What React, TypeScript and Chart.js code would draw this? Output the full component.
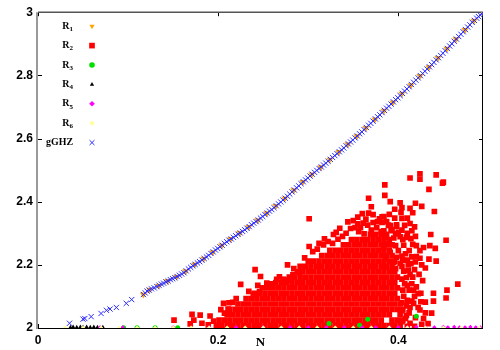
import React, { useEffect, useRef } from "react";
import { Chart, registerables } from "chart.js";
import { drawPoint } from "chart.js/helpers";

Chart.register(...registerables);

// ---------- axes ----------
const X_TICKS = [0, 0.2, 0.4];
const Y_TICKS = [2, 2.2, 2.4, 2.6, 2.8, 3];
const X_MIN = 0;
const X_MAX = 0.494;
const Y_MIN = 2;
const Y_MAX = 3;

// ---------- legend ----------
const SERIES_BASE = ["R", "R", "R", "R", "R", "R", "gGHZ"];
const SERIES_SUB = ["1", "2", "3", "4", "5", "6", ""];
const SERIES_LABELS = ["R₁", "R₂", "R₃", "R₄", "R₅", "R₆", "gGHZ"];

// ---------- gGHZ (blue crosses) ----------
const GGHZ_N = [
  0.035, 0.05, 0.052, 0.059, 0.07, 0.076, 0.08, 0.087, 0.098, 0.104,
  0.117, 0.121, 0.126, 0.132, 0.137, 0.142, 0.147, 0.152, 0.157, 0.162,
  0.167, 0.172, 0.177, 0.182, 0.187, 0.192, 0.197, 0.202, 0.207, 0.212,
  0.217, 0.222, 0.227, 0.232, 0.237, 0.242, 0.247, 0.252, 0.257, 0.262,
  0.267, 0.272, 0.277, 0.282, 0.287, 0.292, 0.297, 0.302, 0.307, 0.312,
  0.317, 0.322, 0.327, 0.332, 0.337, 0.342, 0.347, 0.352, 0.357, 0.362,
  0.367, 0.372, 0.377, 0.382, 0.387, 0.392, 0.397, 0.402, 0.407, 0.412,
  0.417, 0.422, 0.427, 0.432, 0.437, 0.442, 0.447, 0.452, 0.457, 0.462,
  0.467, 0.472, 0.477, 0.482, 0.487, 0.491, 0.494,
];
const GGHZ_V = [
  2.015, 2.028, 2.03, 2.036, 2.046, 2.056, 2.06, 2.065, 2.078, 2.09,
  2.106, 2.117, 2.124, 2.131, 2.139, 2.146, 2.153, 2.159, 2.167, 2.175,
  2.187, 2.197, 2.206, 2.215, 2.225, 2.236, 2.247, 2.257, 2.268, 2.278,
  2.287, 2.297, 2.306, 2.316, 2.327, 2.337, 2.348, 2.359, 2.37, 2.381,
  2.393, 2.405, 2.417, 2.431, 2.444, 2.457, 2.469, 2.481, 2.493, 2.505,
  2.516, 2.528, 2.54, 2.552, 2.564, 2.577, 2.589, 2.602, 2.615, 2.628,
  2.642, 2.655, 2.669, 2.682, 2.696, 2.709, 2.723, 2.736, 2.75, 2.764,
  2.778, 2.792, 2.806, 2.82, 2.834, 2.849, 2.863, 2.878, 2.893, 2.908,
  2.923, 2.938, 2.953, 2.968, 2.981, 2.991, 3.0,
];
// further gGHZ crosses lying between the ones above (the dense part of the curve)
const GGHZ_N_B = [
  0.119, 0.1235, 0.129, 0.1345, 0.1395, 0.1445, 0.1495, 0.1545, 0.1595, 0.1645,
  0.1695, 0.1745, 0.1795, 0.1845, 0.1895, 0.1945, 0.1995, 0.2045, 0.2095, 0.2145,
  0.2195, 0.2245, 0.2295, 0.2345, 0.2395, 0.2445, 0.2495, 0.2545, 0.2595, 0.2645,
  0.2695, 0.2745, 0.2795, 0.2845, 0.2895, 0.2945, 0.2995, 0.3045, 0.3095, 0.3145,
  0.3195, 0.3245, 0.3295, 0.3345, 0.3395, 0.3445, 0.3495, 0.3545, 0.3595, 0.3645,
  0.3695, 0.3745, 0.3795, 0.3845, 0.3895, 0.3945, 0.3995, 0.4045, 0.4095, 0.4145,
  0.4195, 0.4245, 0.4295, 0.4345, 0.4395, 0.4445, 0.4495, 0.4545, 0.4595, 0.4645,
  0.4695, 0.4745, 0.4795, 0.4845, 0.489, 0.4925,
];
const GGHZ_V_B = [
  2.111, 2.12, 2.127, 2.135, 2.142, 2.149, 2.156, 2.163, 2.171, 2.181,
  2.192, 2.201, 2.21, 2.22, 2.23, 2.241, 2.252, 2.262, 2.273, 2.282,
  2.292, 2.301, 2.311, 2.321, 2.332, 2.342, 2.353, 2.364, 2.375, 2.387,
  2.399, 2.411, 2.424, 2.437, 2.45, 2.463, 2.475, 2.487, 2.499, 2.51,
  2.522, 2.534, 2.546, 2.558, 2.57, 2.583, 2.595, 2.608, 2.621, 2.635,
  2.648, 2.662, 2.675, 2.689, 2.702, 2.716, 2.729, 2.743, 2.757, 2.771,
  2.785, 2.799, 2.813, 2.827, 2.841, 2.856, 2.87, 2.885, 2.9, 2.915,
  2.93, 2.945, 2.96, 2.974, 2.986, 2.995,
];

// ---------- R1 (orange down-triangles, along the curve) ----------
const R1_N = [
  0.117, 0.124, 0.134, 0.144, 0.154, 0.164, 0.174, 0.184, 0.194, 0.204,
  0.214, 0.224, 0.234, 0.244, 0.254, 0.264, 0.274, 0.284, 0.294, 0.304,
  0.314, 0.324, 0.334, 0.344, 0.354, 0.364, 0.374, 0.384, 0.394, 0.404,
  0.414, 0.424, 0.434, 0.444, 0.454, 0.464, 0.474, 0.484, 0.494,
];
const R1_V = [
  2.106, 2.121, 2.134, 2.149, 2.162, 2.18, 2.201, 2.219, 2.24, 2.261,
  2.282, 2.301, 2.32, 2.341, 2.363, 2.386, 2.41, 2.436, 2.462, 2.486,
  2.509, 2.533, 2.557, 2.582, 2.607, 2.633, 2.66, 2.688, 2.714, 2.742,
  2.769, 2.798, 2.826, 2.855, 2.884, 2.914, 2.944, 2.973, 3.0,
];

// ---------- R2 (red squares): dense core, row by row ----------
const R2_ROW_V = [
  2.008, 2.025, 2.042, 2.059, 2.076, 2.093, 2.11, 2.127, 2.144,
  2.161, 2.178, 2.195, 2.212, 2.229, 2.246, 2.263, 2.28, 2.297,
];
const R2_ROW_N = [
  [0.198, 0.204, 0.21, 0.216, 0.222, 0.228, 0.234, 0.24, 0.246, 0.252, 0.258, 0.264, 0.27, 0.276, 0.282, 0.288, 0.294, 0.3, 0.306, 0.312, 0.318, 0.324, 0.33, 0.336, 0.342, 0.348, 0.354, 0.36, 0.366, 0.372, 0.378, 0.384, 0.39, 0.396, 0.402],
  [0.201, 0.207, 0.213, 0.219, 0.225, 0.231, 0.237, 0.243, 0.249, 0.255, 0.261, 0.267, 0.273, 0.279, 0.285, 0.291, 0.297, 0.303, 0.309, 0.315, 0.321, 0.327, 0.333, 0.339, 0.345, 0.351, 0.357, 0.363, 0.369, 0.375, 0.381, 0.393, 0.399, 0.405],
  [0.21, 0.216, 0.222, 0.228, 0.234, 0.24, 0.246, 0.252, 0.258, 0.264, 0.27, 0.276, 0.282, 0.288, 0.294, 0.3, 0.306, 0.312, 0.318, 0.324, 0.33, 0.336, 0.342, 0.348, 0.354, 0.36, 0.366, 0.372, 0.378, 0.384, 0.39, 0.402],
  [0.213, 0.219, 0.225, 0.231, 0.237, 0.243, 0.249, 0.255, 0.261, 0.267, 0.273, 0.279, 0.285, 0.291, 0.297, 0.303, 0.309, 0.315, 0.321, 0.327, 0.333, 0.339, 0.345, 0.351, 0.357, 0.363, 0.369, 0.375, 0.381, 0.387, 0.393, 0.399, 0.405],
  [0.222, 0.228, 0.234, 0.24, 0.246, 0.252, 0.258, 0.264, 0.27, 0.276, 0.282, 0.288, 0.294, 0.3, 0.306, 0.312, 0.318, 0.324, 0.33, 0.336, 0.342, 0.348, 0.354, 0.36, 0.366, 0.372, 0.378, 0.384, 0.39, 0.396, 0.402],
  [0.231, 0.237, 0.243, 0.249, 0.255, 0.261, 0.267, 0.273, 0.279, 0.285, 0.291, 0.297, 0.303, 0.309, 0.315, 0.321, 0.327, 0.333, 0.339, 0.345, 0.351, 0.357, 0.363, 0.369, 0.375, 0.381, 0.387, 0.393, 0.399],
  [0.24, 0.246, 0.252, 0.258, 0.264, 0.27, 0.276, 0.282, 0.288, 0.294, 0.3, 0.306, 0.312, 0.318, 0.324, 0.33, 0.336, 0.342, 0.348, 0.354, 0.36, 0.366, 0.372, 0.378, 0.384, 0.39, 0.396],
  [0.249, 0.255, 0.261, 0.267, 0.273, 0.279, 0.285, 0.291, 0.297, 0.303, 0.309, 0.315, 0.321, 0.327, 0.333, 0.339, 0.345, 0.351, 0.357, 0.363, 0.369, 0.375, 0.381, 0.387, 0.393, 0.399],
  [0.264, 0.27, 0.276, 0.282, 0.288, 0.294, 0.3, 0.306, 0.312, 0.318, 0.324, 0.33, 0.336, 0.342, 0.348, 0.354, 0.36, 0.366, 0.372, 0.378, 0.384, 0.39, 0.396],
  [0.279, 0.285, 0.291, 0.297, 0.303, 0.309, 0.315, 0.321, 0.327, 0.333, 0.339, 0.345, 0.351, 0.357, 0.363, 0.369, 0.375, 0.381, 0.387, 0.393, 0.399],
  [0.288, 0.294, 0.3, 0.306, 0.312, 0.318, 0.324, 0.33, 0.336, 0.342, 0.348, 0.354, 0.36, 0.366, 0.372, 0.378, 0.384, 0.39, 0.396],
  [0.291, 0.297, 0.303, 0.309, 0.315, 0.321, 0.327, 0.333, 0.339, 0.345, 0.351, 0.357, 0.363, 0.369, 0.375, 0.381, 0.387, 0.393],
  [0.3, 0.306, 0.312, 0.318, 0.324, 0.33, 0.336, 0.342, 0.348, 0.354, 0.36, 0.366, 0.372, 0.378, 0.384, 0.39, 0.396],
  [0.315, 0.321, 0.327, 0.333, 0.339, 0.345, 0.351, 0.357, 0.363, 0.369, 0.375, 0.381, 0.387, 0.393],
  [0.324, 0.33, 0.336, 0.342, 0.348, 0.354, 0.36, 0.366, 0.372, 0.378, 0.384, 0.39],
  [0.339, 0.345, 0.351, 0.357, 0.363, 0.369, 0.375, 0.381, 0.387, 0.393],
  [0.348, 0.354, 0.36, 0.366, 0.372, 0.378, 0.384, 0.39],
  [0.369, 0.375, 0.381, 0.387],
];
// R2 scattered squares around the core: [N, value]
const R2_SCATTER: [number, number][] = [
  [0.424, 2.488], [0.424, 2.471], [0.413, 2.475], [0.442, 2.485], [0.45, 2.462], [0.449, 2.459],
  [0.385, 2.453], [0.385, 2.42], [0.434, 2.439], [0.391, 2.4], [0.402, 2.396], [0.419, 2.395],
  [0.426, 2.385], [0.44, 2.369], [0.396, 2.376], [0.404, 2.381], [0.413, 2.379], [0.403, 2.366],
  [0.416, 2.365], [0.367, 2.411], [0.37, 2.384], [0.301, 2.346], [0.344, 2.336], [0.355, 2.351],
  [0.36, 2.362], [0.367, 2.364], [0.372, 2.359], [0.382, 2.352], [0.377, 2.337], [0.387, 2.337],
  [0.389, 2.326], [0.347, 2.315], [0.355, 2.33], [0.361, 2.332], [0.331, 2.303], [0.328, 2.296],
  [0.327, 2.268], [0.312, 2.268], [0.317, 2.263], [0.301, 2.258], [0.305, 2.242], [0.296, 2.222],
  [0.277, 2.2], [0.284, 2.188], [0.272, 2.154],
  [0.338, 2.29], [0.342, 2.3], [0.356, 2.305], [0.362, 2.298], [0.37, 2.31], [0.376, 2.318],
  [0.381, 2.305], [0.392, 2.312], [0.397, 2.298], [0.398, 2.322],
  [0.39, 2.36], [0.384, 2.353], [0.396, 2.348], [0.382, 2.334], [0.391, 2.324], [0.398, 2.327],
  [0.384, 2.308], [0.393, 2.308], [0.4, 2.303], [0.386, 2.287], [0.395, 2.285], [0.402, 2.289],
  [0.389, 2.266], [0.397, 2.261], [0.384, 2.256], [0.4, 2.245], [0.391, 2.24], [0.398, 2.224],
  [0.386, 2.219], [0.395, 2.208], [0.402, 2.205], [0.387, 2.193], [0.397, 2.188],
  [0.404, 2.347], [0.41, 2.348], [0.413, 2.331], [0.415, 2.308], [0.409, 2.287], [0.414, 2.283],
  [0.42, 2.261], [0.424, 2.245], [0.42, 2.226], [0.424, 2.221], [0.419, 2.209], [0.414, 2.204],
  [0.411, 2.182], [0.416, 2.161], [0.42, 2.13], [0.422, 2.109], [0.417, 2.078], [0.424, 2.057],
  [0.412, 2.048], [0.413, 2.015], [0.406, 2.262], [0.408, 2.235], [0.405, 2.215], [0.409, 2.16],
  [0.407, 2.14], [0.412, 2.12], [0.406, 2.1], [0.41, 2.088], [0.413, 2.065], [0.408, 2.03],
  [0.415, 2.14], [0.411, 2.2],
  [0.404, 2.02], [0.409, 2.04], [0.404, 2.055], [0.409, 2.07], [0.415, 2.085], [0.404, 2.08],
  [0.418, 2.1], [0.405, 2.12], [0.41, 2.135], [0.417, 2.12], [0.404, 2.155], [0.413, 2.17],
  [0.406, 2.18], [0.418, 2.185], [0.404, 2.195], [0.41, 2.215], [0.415, 2.225], [0.404, 2.228],
  [0.412, 2.245], [0.405, 2.28], [0.416, 2.265], [0.41, 2.3], [0.404, 2.31], [0.419, 2.29],
  [0.407, 2.325], [0.418, 2.32], [0.426, 2.2], [0.423, 2.17], [0.427, 2.15], [0.422, 2.065],
  [0.428, 2.03], [0.418, 2.005], [0.41, 2.005], [0.425, 2.11],
  [0.436, 2.296], [0.453, 2.278], [0.441, 2.252], [0.435, 2.261], [0.428, 2.255], [0.442, 2.212],
  [0.434, 2.218], [0.43, 2.19], [0.466, 2.139], [0.454, 2.12], [0.453, 2.095], [0.439, 2.11],
  [0.439, 2.085], [0.437, 2.047], [0.43, 2.048], [0.433, 2.014], [0.425, 2.083], [0.43, 2.082],
  [0.419, 2.033], [0.426, 2.012],
  [0.151, 2.025], [0.171, 2.043], [0.18, 2.041], [0.191, 2.038], [0.173, 2.025], [0.182, 2.015],
  [0.169, 2.013], [0.189, 2.01], [0.195, 2.022], [0.225, 2.138], [0.241, 2.185], [0.247, 2.163],
  [0.254, 2.142], [0.265, 2.154], [0.273, 2.153], [0.277, 2.151], [0.244, 2.135], [0.256, 2.129],
  [0.246, 2.115], [0.234, 2.116], [0.239, 2.105], [0.22, 2.093], [0.212, 2.08], [0.206, 2.078],
  [0.216, 2.081], [0.211, 2.06], [0.203, 2.058], [0.207, 2.047], [0.259, 2.14], [0.268, 2.162],
  [0.283, 2.168], [0.29, 2.176],
  [0.318, 2.282], [0.322, 2.274], [0.333, 2.281], [0.352, 2.318], [0.358, 2.318], [0.366, 2.326],
  [0.372, 2.334], [0.379, 2.346], [0.364, 2.345], [0.35, 2.34], [0.335, 2.316], [0.31, 2.25],
];

// ---------- R3 (green circles) ----------
const R3_N = [0.323, 0.366, 0.357, 0.42, 0.095, 0.11, 0.13, 0.155];
const R3_V = [2.014, 2.028, 2.009, 2.037, 2.001, 2.001, 2.001, 2.001];

// ---------- R4 (black triangles) ----------
const R4_N = [0.036, 0.039, 0.043, 0.047, 0.05, 0.054, 0.058, 0.062, 0.066, 0.072];
const R4_V = [2.002, 2.003, 2.002, 2.003, 2.002, 2.003, 2.002, 2.003, 2.002, 2.002];

// ---------- R5 (magenta) ----------
const R5_N = [
  0.069, 0.094, 0.15, 0.19, 0.22, 0.25, 0.28, 0.3, 0.32, 0.34, 0.36, 0.375, 0.39,
  0.4, 0.41, 0.42, 0.43, 0.44, 0.45, 0.455, 0.462, 0.468, 0.474, 0.48, 0.486, 0.491,
];
const R5_V = [
  2.002, 2.002, 2.002, 2.002, 2.002, 2.002, 2.002, 2.002, 2.002, 2.002, 2.002, 2.002, 2.002,
  2.002, 2.002, 2.003, 2.002, 2.002, 2.003, 2.002, 2.003, 2.002, 2.002, 2.003, 2.002, 2.002,
];

// ---------- R6 (light yellow) ----------
const R6_N = [
  0.03, 0.05, 0.07, 0.09, 0.11, 0.13, 0.15, 0.17, 0.19, 0.21, 0.23, 0.25,
  0.27, 0.29, 0.31, 0.33, 0.35, 0.37, 0.39, 0.41, 0.43, 0.45, 0.47, 0.49,
];
const R6_V = [
  2.001, 2.001, 2.001, 2.001, 2.001, 2.001, 2.001, 2.001, 2.001, 2.001, 2.001, 2.001,
  2.001, 2.001, 2.001, 2.001, 2.001, 2.001, 2.001, 2.001, 2.001, 2.001, 2.001, 2.001,
];

const pairs = (ns: number[], vs: number[]) => ns.map((n, i) => ({ x: n, y: vs[i] }));

const SERIF = '"Liberation Serif", "Times New Roman", serif';
const SANS = '"Liberation Sans", Arial, sans-serif';

const framePlugin = {
  id: "frame",
  beforeDatasetsDraw(chart: any) {
    const { ctx, chartArea, scales } = chart;
    const { left, right, top, bottom } = chartArea;
    ctx.save();
    ctx.strokeStyle = "#000";
    ctx.lineWidth = 1;
    const seg = (x1: number, y1: number, x2: number, y2: number) => {
      ctx.beginPath();
      ctx.moveTo(x1, y1);
      ctx.lineTo(x2, y2);
      ctx.stroke();
    };
    X_TICKS.forEach((v) => {
      const px = Math.round(scales.x.getPixelForValue(v)) + 0.5;
      seg(px, bottom, px, bottom - 4);
      seg(px, top, px, top + 4);
    });
    Y_TICKS.forEach((v) => {
      const py = Math.round(scales.y.getPixelForValue(v)) + 0.5;
      seg(left, py, left + 4, py);
      seg(right, py, right - 4, py);
    });
    ctx.strokeStyle = "#000";
    seg(left, bottom + 0.5, right, bottom + 0.5);
    seg(right - 0.5, top, right - 0.5, bottom);
    ctx.strokeStyle = "#555";
    ctx.lineWidth = 1.5;
    seg(left, top, right, top);
    ctx.strokeStyle = "#999";
    ctx.lineWidth = 2;
    seg(left - 1, top, left - 1, bottom + 1);
    ctx.restore();
  },
};

const legendPlugin = {
  id: "innerLegend",
  afterDatasetsDraw(chart: any) {
    const { ctx, chartArea } = chart;
    const xText = chartArea.left + 35;
    const xMark = chartArea.left + 54;
    chart.data.datasets.forEach((ds: any, i: number) => {
      const y = chartArea.top + 14 + i * 19.4;
      ctx.save();
      ctx.fillStyle = "#000";
      ctx.textBaseline = "middle";
      ctx.textAlign = "right";
      const sub = SERIES_SUB[i];
      if (sub) {
        ctx.font = `bold 7px ${SERIF}`;
        ctx.fillText(sub, xText, y + 3, 4);
        const w = Math.min(ctx.measureText(sub).width, 4);
        ctx.font = `bold 10px ${SERIF}`;
        ctx.fillText(SERIES_BASE[i], xText - w, y, 7.5);
      } else {
        ctx.font = `bold 10px ${SERIF}`;
        ctx.fillText(SERIES_BASE[i], xText, y, 27);
      }
      ctx.fillStyle = ds.backgroundColor;
      ctx.strokeStyle = ds.borderColor;
      ctx.lineWidth = ds.borderWidth;
      drawPoint(
        ctx,
        {
          pointStyle: ds.pointStyle,
          rotation: ds.rotation || 0,
          radius: ds.legendRadius,
          borderWidth: ds.borderWidth,
        } as any,
        xMark,
        y
      );
      ctx.restore();
    });
  },
};

export default function App() {
  const ref = useRef<HTMLCanvasElement | null>(null);

  useEffect(() => {
    if (!ref.current) return;
    const r2Data = [
      ...R2_ROW_N.flatMap((row, i) => row.map((n) => ({ x: n, y: R2_ROW_V[i] }))),
      ...R2_SCATTER.map(([n, v]) => ({ x: n, y: v })),
    ];
    const gghzData = [...pairs(GGHZ_N, GGHZ_V), ...pairs(GGHZ_N_B, GGHZ_V_B)];
    const chart = new Chart(ref.current, {
      type: "scatter",
      data: {
        datasets: [
          {
            label: SERIES_LABELS[0],
            data: pairs(R1_N, R1_V),
            pointStyle: "triangle",
            rotation: 180,
            pointRadius: 4,
            legendRadius: 3,
            backgroundColor: "#ffa500",
            borderColor: "#ffa500",
            borderWidth: 0,
            order: 5,
          } as any,
          {
            label: SERIES_LABELS[1],
            data: r2Data,
            pointStyle: "rect",
            pointRadius: 4,
            legendRadius: 4,
            backgroundColor: "#ff0000",
            borderColor: "#ff0000",
            borderWidth: 0,
            clip: 0,
            order: 6,
          } as any,
          {
            label: SERIES_LABELS[2],
            data: pairs(R3_N, R3_V),
            pointStyle: "circle",
            pointRadius: 2.5,
            legendRadius: 2.8,
            backgroundColor: "#00e000",
            borderColor: "#00e000",
            borderWidth: 0,
            clip: 0,
            order: 4,
          } as any,
          {
            label: SERIES_LABELS[3],
            data: pairs(R4_N, R4_V),
            pointStyle: "triangle",
            pointRadius: 2.5,
            legendRadius: 2.5,
            backgroundColor: "#000000",
            borderColor: "#000000",
            borderWidth: 0,
            clip: 0,
            order: 3,
          } as any,
          {
            label: SERIES_LABELS[4],
            data: pairs(R5_N, R5_V),
            pointStyle: "rectRot",
            pointRadius: 2.2,
            legendRadius: 2.8,
            backgroundColor: "#ff00ff",
            borderColor: "#ff00ff",
            borderWidth: 0,
            clip: 0,
            order: 2,
          } as any,
          {
            label: SERIES_LABELS[5],
            data: pairs(R6_N, R6_V),
            pointStyle: "rectRot",
            pointRadius: 2.2,
            legendRadius: 2.8,
            backgroundColor: "#ffffa0",
            borderColor: "#ffffa0",
            borderWidth: 0,
            clip: 0,
            order: 1,
          } as any,
          {
            label: SERIES_LABELS[6],
            data: gghzData,
            pointStyle: "crossRot",
            pointRadius: 3.7,
            legendRadius: 3.5,
            backgroundColor: "#0000ff",
            borderColor: "#2a2aff",
            borderWidth: 1,
            order: 0,
          } as any,
        ],
      },
      options: {
        responsive: false,
        animation: false,
        devicePixelRatio: 1,
        layout: { padding: { left: 0, top: 10, right: 17, bottom: 0 } },
        plugins: {
          legend: { display: false },
          tooltip: { enabled: false },
        },
        scales: {
          x: {
            type: "linear",
            min: X_MIN,
            max: X_MAX,
            afterBuildTicks: (s: any) => {
              s.ticks = X_TICKS.map((v) => ({ value: v }));
            },
            afterFit: (s: any) => {
              s.height = 22;
            },
            grid: { display: false, drawTicks: false },
            border: { display: false },
            ticks: {
              autoSkip: false,
              maxRotation: 0,
              padding: 5,
              color: "#000",
              font: { family: SANS, weight: "bold", size: 12 },
              callback: (v: any) => String(v),
            },
            title: {
              display: true,
              text: "N",
              color: "#000",
              font: { family: SERIF, weight: "bold", size: 13 },
              padding: { top: 0, bottom: 0 },
            },
          },
          y: {
            type: "linear",
            min: Y_MIN,
            max: Y_MAX,
            afterBuildTicks: (s: any) => {
              s.ticks = Y_TICKS.map((v) => ({ value: v }));
            },
            afterFit: (s: any) => {
              s.width = 38;
            },
            grid: { display: false, drawTicks: false },
            border: { display: false },
            ticks: {
              autoSkip: false,
              padding: 5,
              color: "#000",
              font: { family: SANS, weight: "bold", size: 12 },
              callback: (v: any) => String(v),
            },
          },
        },
      } as any,
      plugins: [framePlugin, legendPlugin],
    });
    return () => chart.destroy();
  }, []);

  return (
    <div style={{ position: "fixed", left: 0, top: 0, width: 500, height: 350, background: "#fff" }}>
      <canvas ref={ref} width={500} height={350} style={{ width: 500, height: 350, display: "block" }} />
    </div>
  );
}
